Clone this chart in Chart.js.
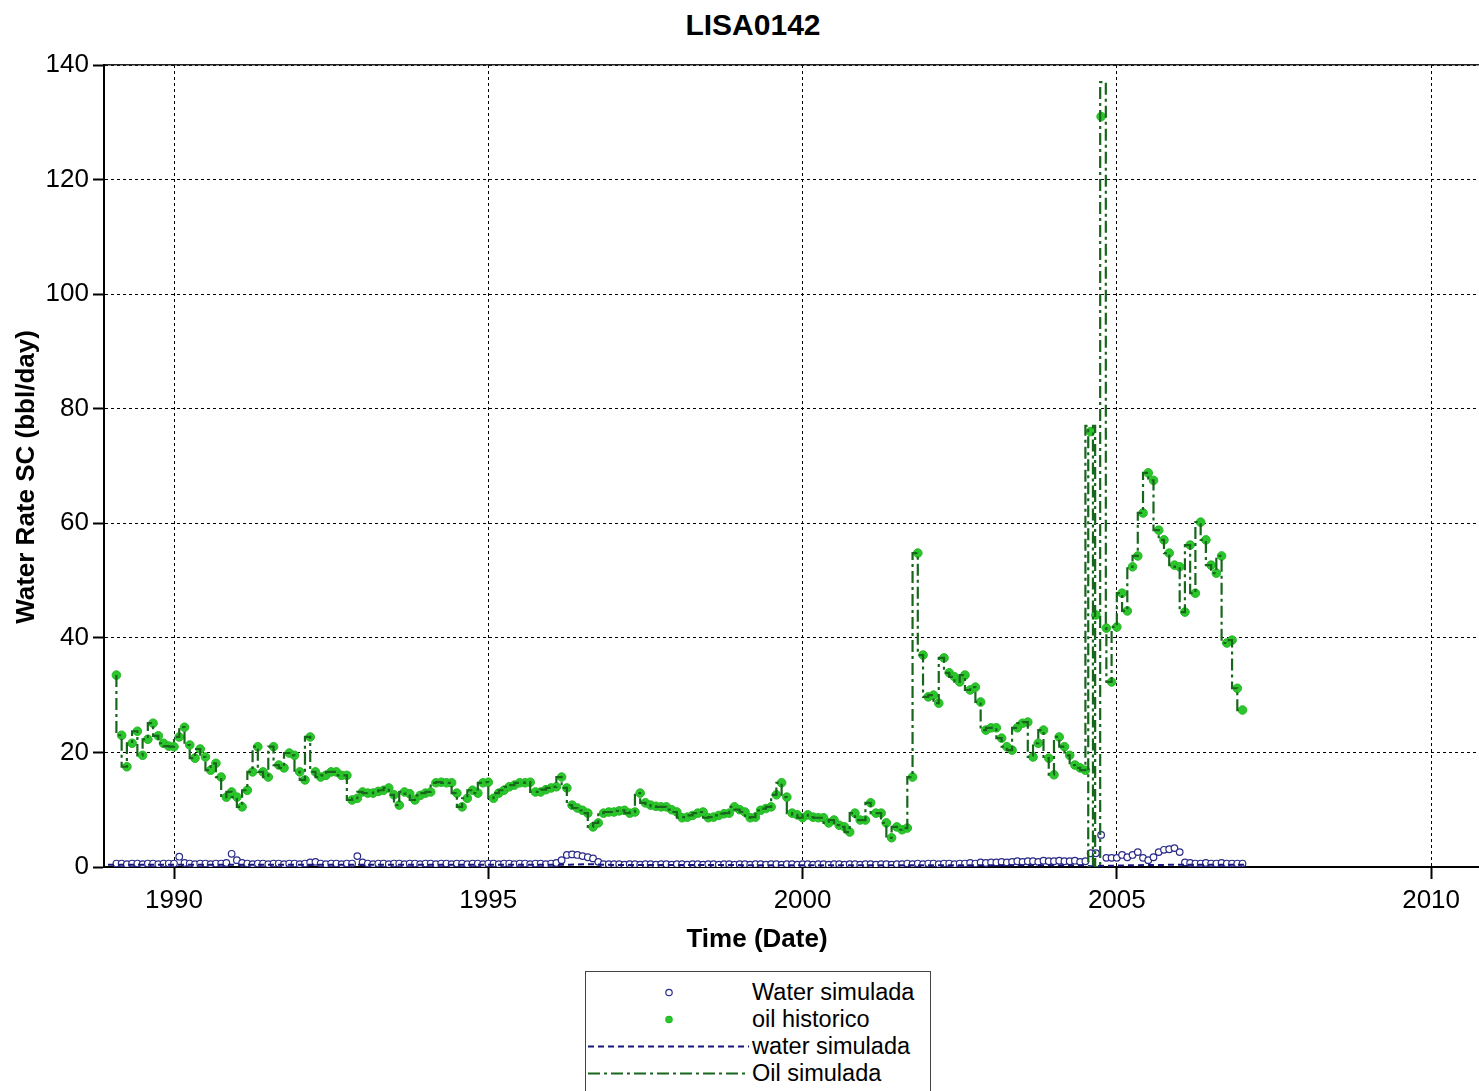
<!DOCTYPE html>
<html lang="en">
<head>
  <meta charset="UTF-8">
  <title>LISA0142</title>
  <script src="https://cdn.jsdelivr.net/npm/chart.js"></script>
  <style>
    html, body {
      margin: 0;
      padding: 0;
      background: #fff;
    }
    body {
      width: 1479px;
      height: 1091px;
      position: relative;
      overflow: hidden;
      font-family: Arial, "Liberation Sans", sans-serif;
    }
    #wrap {
      position: absolute;
      left: 0;
      top: 0;
      width: 1520px;
      height: 1091px;
    }
    #title {
      position: absolute;
      top: 8px;
      left: 0;
      width: 1506px;
      text-align: center;
      font-weight: bold;
      font-size: 30px;
      line-height: 34px;
    }
    #xTitle {
      position: absolute;
      top: 923px;
      left: 0;
      width: 1514px;
      text-align: center;
      font-weight: bold;
      font-size: 26px;
      line-height: 30px;
    }
    #yTitle {
      position: absolute;
      left: -175px;
      top: 462px;
      width: 400px;
      text-align: center;
      font-weight: bold;
      font-size: 26px;
      line-height: 30px;
      transform: rotate(-90deg);
    }
    #legend {
      position: absolute;
      left: 585px;
      top: 971px;
      width: 346px;
      height: 130px;
      border: 1px solid #444;
      background: #fff;
      padding-top: 7px;
      box-sizing: border-box;
    }
    .row {
      display: flex;
      align-items: center;
      height: 27px;
      font-size: 23.5px;
    }
    .row svg {
      flex: none;
      margin-right: 3px;
    }
  </style>
</head>
<body>

  <div id="title">LISA0142</div>
  <div id="wrap"><canvas id="rateChart" width="1520" height="1091"></canvas></div>
  <div id="yTitle">Water Rate SC (bbl/day)</div>
  <div id="xTitle">Time (Date)</div>
  <div id="legend"></div>

  <script>
    // monthly samples, first one is Feb 1989
    const startYear = 1989;
    const startMonth = 2;

    const oilHistorico = [
      33.5, 23.0, 17.5, 21.6, 23.7, 19.5, 22.3, 25.1, 22.9, 21.6, 21.1, 21.0,
      22.7, 24.4, 21.3, 19.0, 20.6, 19.2, 16.9, 18.1, 15.7, 12.2, 13.1, 12.2,
      10.5, 13.4, 16.6, 21.0, 16.6, 15.7, 21.0, 17.8, 17.3, 19.9, 19.5, 16.6,
      15.2, 22.7, 16.6, 15.7, 16.0, 16.6, 16.6, 16.0, 16.0, 11.7, 12.0, 13.1,
      12.9, 12.9, 13.2, 13.4, 13.8, 12.6, 10.8, 13.1, 12.8, 11.7, 12.5, 12.9,
      13.1, 14.7, 14.8, 14.7, 14.7, 12.9, 10.5, 12.0, 13.4, 12.9, 14.7, 14.8,
      12.0, 12.9, 13.4, 14.0, 14.3, 14.7, 14.7, 14.8, 13.1, 13.1, 13.5, 13.8,
      14.0, 15.7, 13.8, 10.8, 10.3, 9.9, 9.4, 7.0, 7.7, 9.4, 9.6, 9.6,
      9.8, 9.9, 9.4, 9.6, 12.9, 11.2, 10.8, 10.6, 10.5, 10.5, 10.0, 9.6,
      8.6, 8.7, 9.0, 9.4, 9.6, 8.6, 8.7, 9.0, 9.3, 9.4, 10.5, 10.0,
      9.6, 8.6, 8.7, 9.9, 10.2, 10.5, 12.6, 14.7, 12.2, 9.4, 9.1, 8.6,
      9.1, 8.7, 8.6, 8.6, 7.7, 8.2, 7.3, 7.0, 6.1, 9.4, 8.2, 8.2,
      11.2, 9.4, 9.4, 7.7, 5.1, 7.0, 6.5, 6.8, 15.7, 54.8, 37.0, 29.7,
      30.0, 28.6, 36.5, 33.9, 33.2, 32.3, 33.5, 30.9, 31.4, 28.8, 23.9, 24.3,
      24.3, 22.5, 21.0, 20.4, 24.3, 25.1, 25.3, 19.2, 21.6, 23.9, 19.0, 16.1,
      22.7, 21.0, 19.5, 17.8, 17.3, 16.9, 76.0, 44.0, 131.0, 41.7, 32.3, 41.9,
      47.8, 44.7, 52.4, 54.3, 61.8, 68.8, 67.5, 58.8, 57.1, 54.8, 52.7, 52.4,
      44.5, 56.2, 47.8, 60.2, 57.1, 52.7, 51.3, 54.3, 39.1, 39.6, 31.2, 27.4
    ];

    const waterSimulada = [
      0.6, 0.6, 0.5, 0.6, 0.6, 0.5, 0.6, 0.6, 0.5, 0.6, 0.6, 0.6,
      1.8, 0.7, 0.6, 0.5, 0.6, 0.6, 0.5, 0.6, 0.6, 0.7, 2.3, 1.2,
      0.7, 0.6, 0.5, 0.6, 0.6, 0.5, 0.6, 0.6, 0.5, 0.6, 0.6, 0.5,
      0.6, 0.8, 0.9, 0.6, 0.5, 0.6, 0.6, 0.5, 0.6, 0.6, 1.9, 0.8,
      0.6, 0.5, 0.6, 0.6, 0.5, 0.6, 0.6, 0.5, 0.6, 0.6, 0.5, 0.6,
      0.6, 0.5, 0.6, 0.6, 0.5, 0.6, 0.6, 0.5, 0.6, 0.6, 0.5, 0.6,
      0.6, 0.5, 0.6, 0.6, 0.5, 0.6, 0.6, 0.5, 0.6, 0.6, 0.5, 0.6,
      0.7, 1.2, 2.1, 2.2, 2.1, 1.9, 1.7, 1.5, 0.9, 0.5, 0.5, 0.5,
      0.5, 0.4, 0.5, 0.5, 0.4, 0.5, 0.5, 0.4, 0.5, 0.5, 0.4, 0.5,
      0.5, 0.4, 0.5, 0.5, 0.4, 0.5, 0.5, 0.4, 0.5, 0.5, 0.4, 0.5,
      0.5, 0.4, 0.5, 0.5, 0.4, 0.5, 0.5, 0.4, 0.5, 0.5, 0.4, 0.5,
      0.5, 0.4, 0.5, 0.5, 0.4, 0.5, 0.5, 0.4, 0.5, 0.5, 0.4, 0.5,
      0.5, 0.4, 0.5, 0.5, 0.4, 0.5, 0.5, 0.6, 0.5, 0.6, 0.5, 0.6,
      0.6, 0.5, 0.6, 0.6, 0.5, 0.6, 0.6, 0.7, 0.6, 0.8, 0.7, 0.8,
      0.8, 0.9, 0.8, 0.9, 1.0, 0.9, 1.0, 1.0, 0.9, 1.1, 1.0, 1.0,
      1.1, 1.0, 1.0, 1.1, 0.9, 1.0, 2.4, 2.4, 5.6, 1.6, 1.6, 1.6,
      2.1, 1.7, 2.1, 2.6, 1.6, 1.2, 1.7, 2.6, 3.0, 3.1, 3.3, 2.6,
      0.8, 0.7, 0.6, 0.6, 0.7, 0.6, 0.6, 0.7, 0.6, 0.6, 0.6, 0.6
    ];

    // simulated water rate line (dashed)
    const waterLineYears = [1988.95, 1992.0, 1996.3, 1996.6, 1997.0, 2001.5, 2004.4, 2004.6, 2005.2, 2006.0, 2007.05];
    const waterLineRate  = [0.4, 0.4, 0.4, 0.5, 0.35, 0.3, 0.3, 0.15, 0.3, 0.4, 0.4];

    // simulated oil around the late-2004 spikes (replaces months 186-188)
    const spikeFrom = 186;
    const spikeTo = 188;
    const spikeYears  = [2004.545, 2004.62, 2004.655, 2004.735, 2004.825];
    const spikeOilSim = [77, 0, 77, 0, 137];

    const xTicks = [1990, 1995, 2000, 2005, 2010];
    const xMin = 1988.886;
    const xMax = 2011.33;
    const yMin = 0;
    const yMax = 140;
    const yStep = 20;

    function monthToYear(i) {
      return startYear + (startMonth - 1 + i) / 12;
    }

    const oilPoints = oilHistorico.map((v, i) => ({ x: monthToYear(i), y: v }));
    const waterPoints = waterSimulada.map((v, i) => ({ x: monthToYear(i), y: v }));
    const waterLine = waterLineYears.map((x, i) => ({ x: x, y: waterLineRate[i] }));

    const oilSimLine = [];
    oilHistorico.forEach((v, i) => {
      if (i === spikeFrom) {
        spikeYears.forEach((x, k) => oilSimLine.push({ x: x, y: spikeOilSim[k] }));
      }
      if (i < spikeFrom || i > spikeTo) oilSimLine.push({ x: monthToYear(i), y: v });
    });

    const tickFont = { family: 'Arial, "Liberation Sans", sans-serif', size: 26 };

    const ctx = document.getElementById('rateChart').getContext('2d');
    const chart = new Chart(ctx, {
      type: 'scatter',
      data: {
        datasets: [
          {
            label: 'Water simulada',
            data: waterPoints,
            showLine: false,
            pointStyle: 'circle',
            pointRadius: 3.3,
            pointBorderWidth: 1.2,
            pointBackgroundColor: '#ffffff',
            pointBorderColor: '#2a2a88',
            order: 3
          },
          {
            label: 'oil historico',
            data: oilPoints,
            showLine: false,
            pointStyle: 'circle',
            pointRadius: 4.3,
            pointBorderWidth: 1,
            pointBackgroundColor: '#2bc62b',
            pointBorderColor: '#25b825',
            order: 2
          },
          {
            label: 'water simulada',
            data: waterLine,
            showLine: true,
            pointRadius: 0,
            borderColor: '#16167c',
            borderWidth: 2,
            borderDash: [6, 4],
            order: 1
          },
          {
            label: 'Oil simulada',
            data: oilSimLine,
            showLine: true,
            stepped: 'after',
            pointRadius: 0,
            borderColor: '#17661c',
            borderWidth: 2.2,
            borderDash: [12, 4, 3, 4],
            order: 0
          }
        ]
      },
      options: {
        responsive: false,
        animation: false,
        events: [],
        layout: {
          padding: { top: 65, right: 0, bottom: 164, left: 0 }
        },
        plugins: {
          legend: { display: false },
          title: { display: false },
          tooltip: { enabled: false }
        },
        scales: {
          x: {
            type: 'linear',
            position: 'bottom',
            min: xMin,
            max: xMax,
            afterBuildTicks: scale => {
              scale.ticks = xTicks.map(v => ({ value: v }));
            },
            afterFit: scale => { scale.height = 60; },
            ticks: {
              color: '#000',
              font: tickFont,
              padding: 6,
              maxRotation: 0,
              callback: v => String(v)
            },
            grid: {
              color: '#000',
              lineWidth: 1,
              tickLength: 12,
              tickBorderDash: [],
              tickWidth: 2,
              tickColor: '#000'
            },
            border: { display: true, color: '#000', width: 2, dash: [3, 3] }
          },
          xTop: {
            type: 'linear',
            position: 'top',
            min: xMin,
            max: xMax,
            afterFit: scale => { scale.height = 0; },
            ticks: { display: false },
            grid: { display: false, drawTicks: false },
            border: { display: true, color: '#222', width: 1.5 }
          },
          y: {
            min: yMin,
            max: yMax,
            afterFit: scale => { scale.width = 104; },
            ticks: {
              stepSize: yStep,
              color: '#000',
              font: tickFont,
              padding: 4
            },
            grid: {
              color: '#000',
              lineWidth: 1,
              tickLength: 11,
              tickBorderDash: [],
              tickWidth: 2,
              tickColor: '#000'
            },
            border: { display: true, color: '#000', width: 2, dash: [3, 3] }
          }
        }
      }
    });

    // html legend: symbol column + label, built from the datasets
    const legendOrder = [0, 1, 2, 3];
    const legendBox = document.getElementById('legend');
    legendOrder.forEach(idx => {
      const ds = chart.data.datasets[idx];
      let symbol;
      if (ds.showLine) {
        symbol = '<line x1="2" y1="13.5" x2="163" y2="13.5" stroke="' + ds.borderColor +
          '" stroke-width="2" stroke-dasharray="' + ds.borderDash.join(' ') + '"/>';
      } else {
        symbol = '<circle cx="83" cy="13.5" r="3.2" fill="' + ds.pointBackgroundColor +
          '" stroke="' + ds.pointBorderColor + '" stroke-width="1.2"/>';
      }
      const row = document.createElement('div');
      row.className = 'row';
      row.innerHTML = '<svg width="163" height="27">' + symbol + '</svg><span>' + ds.label + '</span>';
      legendBox.appendChild(row);
    });
  </script>

</body>
</html>
